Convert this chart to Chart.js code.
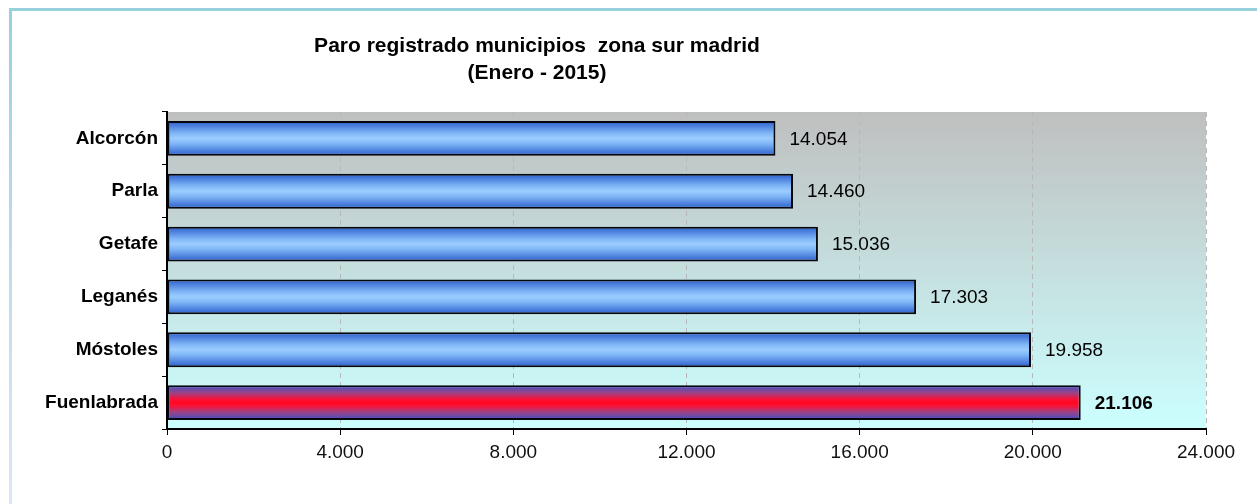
<!DOCTYPE html>
<html>
<head>
<meta charset="utf-8">
<script src="https://cdn.jsdelivr.net/npm/chart.js@4/dist/chart.umd.min.js"></script>
<style>
	html, body { margin : 0; padding : 0; background : #ffffff; overflow : hidden }
	#wrap { position : relative; width : 1257px; height : 504px }
	#frameTop { position : absolute; left : 9px; top : 8px; width : 1248px; height : 3px; background : #98d0dc }
	#frameLeft { position : absolute; left : 9px; top : 8px; width : 3px; height : 496px; background : linear-gradient(#98d0dc, #b8d8ea 40%, #dce6f6) }
	#chart { position : absolute; left : 0; top : 0 }
</style>
</head>
<body>
<div id="wrap">
	<div id="frameTop"></div>
	<div id="frameLeft"></div>
	<canvas id="chart" width="1257" height="504"></canvas>
</div>
<script>
// Paro registrado - zona sur Madrid (Enero 2015)

const titleLines   = ['Paro registrado municipios  zona sur madrid', '(Enero - 2015)']
const municipios   = ['Alcorcón', 'Parla', 'Getafe', 'Leganés', 'Móstoles', 'Fuenlabrada']
const parados      = [14054, 14460, 15036, 17303, 19958, 21106]
const xTicks       = [0, 4000, 8000, 12000, 16000, 20000, 24000]
const highlightIdx = 5

const FONT = 'Arial, "Liberation Sans", sans-serif'
const BAR_PCT = 0.66

const fmtNum = (n) => String(Math.round(n)).replace(/\B(?=(\d{3})+(?!\d))/g, '.')

const barFill = (ctx) => {
	const chart  = ctx.chart
	const yScale = chart.scales.y
	const isHigh = ctx.dataIndex === highlightIdx
	const plain  = isHigh ? '#ff0020' : '#7fb2f0'
	if ( typeof yScale === 'undefined' || typeof ctx.dataIndex === 'undefined' ) { return plain }
	const center = yScale.getPixelForValue(ctx.dataIndex)
	const step   = Math.abs(yScale.getPixelForValue(1) - yScale.getPixelForValue(0))
	if ( ! Number.isFinite(center) || ! Number.isFinite(step) || step === 0 ) { return plain }
	const half   = step * BAR_PCT / 2
	const grad   = chart.ctx.createLinearGradient(0, center - half, 0, center + half)
	if ( isHigh ) {
		grad.addColorStop(0, '#3a4fc6')
		grad.addColorStop(0.22, '#9a4488')
		grad.addColorStop(0.4, '#f81238')
		grad.addColorStop(0.5, '#ff0820')
		grad.addColorStop(0.6, '#f81238')
		grad.addColorStop(0.78, '#9a4488')
		grad.addColorStop(1, '#3a4fc6')
	} else {
		grad.addColorStop(0, '#2a5ccc')
		grad.addColorStop(0.35, '#7fb6f6')
		grad.addColorStop(0.5, '#9ccdff')
		grad.addColorStop(0.65, '#7fb6f6')
		grad.addColorStop(1, '#2a5ccc')
	}
	return grad
}

const plotBackground = {
	id : 'plotBackground',
	beforeDraw : (chart) => {
		const { ctx, chartArea } = chart
		if ( ! chartArea ) { return }
		const grad = ctx.createLinearGradient(0, chartArea.top, 0, chartArea.bottom)
		grad.addColorStop(0, '#bfbfbf')
		grad.addColorStop(1, '#ccffff')
		ctx.save()
		ctx.fillStyle = grad
		ctx.fillRect(chartArea.left, chartArea.top, chartArea.right - chartArea.left, chartArea.bottom - chartArea.top)
		ctx.restore()
	},
}

const valueLabels = {
	id : 'valueLabels',
	afterDatasetsDraw : (chart) => {
		const { ctx } = chart
		const meta = chart.getDatasetMeta(0)
		ctx.save()
		ctx.textBaseline = 'middle'
		ctx.textAlign    = 'left'
		ctx.fillStyle    = '#000000'
		meta.data.forEach((bar, i) => {
			ctx.font = `${i === highlightIdx ? 'bold ' : ''}19px ${FONT}`
			ctx.fillText(fmtNum(parados[i]), bar.x + 14, bar.y + 1)
		})
		ctx.restore()
	},
}

const chartTitle = {
	id : 'chartTitle',
	afterDraw : (chart) => {
		const { ctx } = chart
		ctx.save()
		ctx.font         = `bold 21px ${FONT}`
		ctx.fillStyle    = '#000000'
		ctx.textAlign    = 'center'
		ctx.textBaseline = 'middle'
		titleLines.forEach((line, i) => ctx.fillText(line, 537, 46 + i * 27))
		ctx.restore()
	},
}

const chart = new Chart(document.getElementById('chart'), {
	type : 'bar',
	data : {
		labels   : municipios,
		datasets : [{
			data               : parados,
			backgroundColor    : barFill,
			borderColor        : '#05070f',
			borderWidth        : 2,
			borderSkipped      : false,
			barPercentage      : BAR_PCT,
			categoryPercentage : 1,
		}],
	},
	options : {
		indexAxis           : 'y',
		responsive          : false,
		maintainAspectRatio : false,
		devicePixelRatio    : 1,
		animation           : false,
		layout : {
			padding : { left : 0, right : 51, top : 112, bottom : 35 },
		},
		plugins : {
			legend  : { display : false },
			tooltip : { enabled : false },
			title   : { display : false },
		},
		scales : {
			x : {
				type  : 'linear',
				min   : xTicks[0],
				max   : xTicks[xTicks.length - 1],
				afterBuildTicks : (scale) => { scale.ticks = xTicks.map((v) => ({ value : v })) },
				afterFit : (scale) => { scale.height = 40 },
				grid : {
					color      : '#b8b8b8',
					lineWidth  : 1,
					tickColor  : '#000000',
					tickLength : 6,
					tickWidth  : 1,
				},
				border : { display : true, color : '#000000', width : 2, dash : [5, 4] },
				ticks : {
					color    : '#111111',
					font     : { family : FONT, size : 19 },
					padding  : 6,
					callback : (v) => fmtNum(v),
				},
			},
			y : {
				type : 'category',
				afterFit : (scale) => { scale.width = 167 },
				grid : {
					offset          : true,
					drawOnChartArea : false,
					drawTicks       : true,
					tickColor       : '#000000',
					tickLength      : 5,
					tickWidth       : 1,
				},
				border : { display : true, color : '#000000', width : 2 },
				ticks : {
					color   : '#000000',
					font    : { family : FONT, size : 19, weight : 'bold' },
					padding : 4,
				},
			},
		},
	},
	plugins : [plotBackground, valueLabels, chartTitle],
})

// gradients need the laid-out scale, so refresh once layout exists
chart.update('none')
</script>
</body>
</html>
